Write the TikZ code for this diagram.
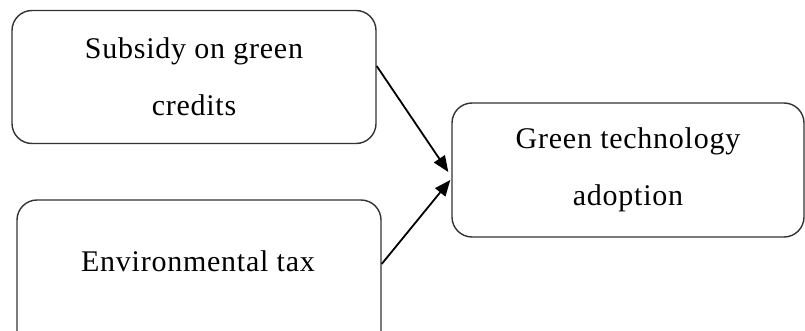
\documentclass[tikz,border=0pt]{standalone}
\usepackage{fontspec}
\setmainfont{Liberation Serif}[LetterSpace=2.5]
\usetikzlibrary{arrows.meta,calc}
\begin{document}
\begin{tikzpicture}[x=1pt,y=1pt,
  box/.style={draw=black!80, line width=1.4pt, rounded corners=20pt, align=center,
    font=\fontsize{30}{57}\selectfont, inner sep=0pt},
  conn/.style={line width=1.8pt, -{Triangle[length=16pt,width=13pt]}}]
\useasboundingbox (0,0) rectangle (805,330);
\clip (0,0) rectangle (805,330);
\node[box, minimum width=364pt, minimum height=133pt] (b1) at (194,253) {Subsidy on green\\credits};
\node[box, minimum width=364pt, minimum height=160pt] (b2) at (199,50) {};
\node[font=\fontsize{30}{57}\selectfont] (t2) at (198,69) {Environmental tax};
\node[box, minimum width=352pt, minimum height=134pt] (b3) at (628,160) {Green technology\\adoption};
\draw[conn] ($(b1.east)+(0,11)$) -- ($(b3.west)+(-3,-2)$);
\draw[conn] ($(b2.east)+(0,16)$) -- ($(b3.west)+(-1,-10)$);
\end{tikzpicture}
\end{document}
